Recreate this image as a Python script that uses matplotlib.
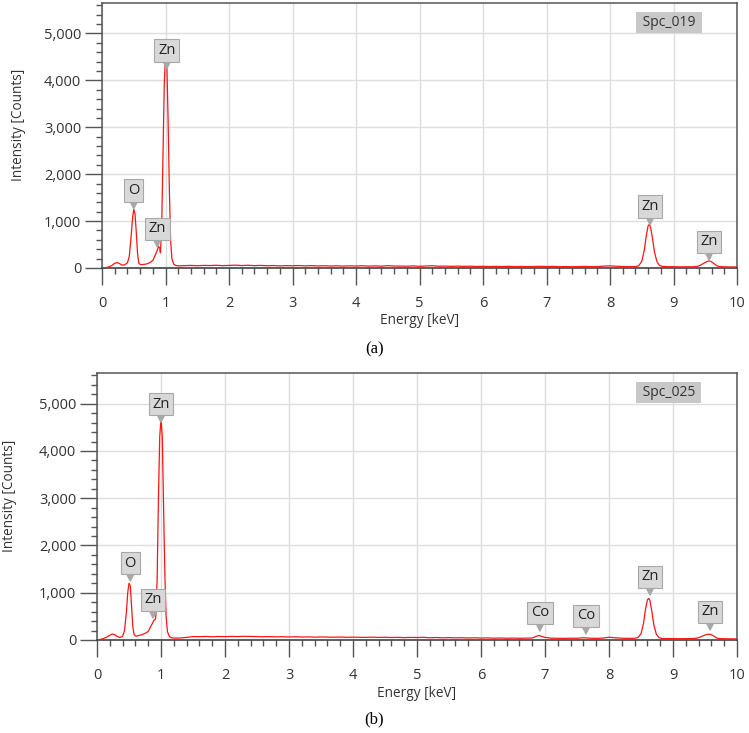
import numpy as np
import matplotlib.pyplot as plt
from matplotlib.ticker import MultipleLocator, FuncFormatter

plt.rcParams['font.family'] = ['Open Sans', 'DejaVu Sans']

# ---- spectrum (a) : Spc_019 ----
low_e_a = [0.00, 0.05, 0.10, 0.15, 0.20, 0.24, 0.28, 0.32, 0.36, 0.40, 0.43, 0.46, 0.48,
           0.50, 0.52, 0.54, 0.56, 0.58, 0.61, 0.65, 0.70, 0.75, 0.80, 0.84, 0.87, 0.89,
           0.91, 0.92, 0.94, 0.96, 0.98, 1.00, 1.02, 1.04, 1.06, 1.08, 1.10, 1.13, 1.16]
low_c_a = [0, 5, 20, 50, 100, 115, 90, 60, 70, 110, 250, 700, 1050,
           1250, 1150, 750, 300, 100, 70, 75, 85, 110, 160, 280, 380, 460,
           420, 320, 900, 2400, 3900, 4550, 4400, 3200, 1700, 600, 200, 80, 55]
# background 1.2 - 8.4 keV, 0.1 keV steps
mid_c_a = [45, 50, 55, 48, 55, 52, 58, 50, 55, 60,
           52, 58, 50, 55, 48, 52, 45, 50, 48, 52,
           45, 50, 44, 48, 42, 47, 40, 46, 42, 48,
           40, 45, 38, 50, 42, 40, 38, 44, 36, 42,
           48, 38, 40, 35, 40, 34, 38, 32, 36, 30,
           34, 30, 35, 30, 33, 28, 32, 36, 30, 34,
           28, 30, 26, 30, 34, 28, 30, 40, 45, 38,
           30, 28, 30]
high_e_a = [8.45, 8.50, 8.54, 8.57, 8.60, 8.62, 8.64, 8.67, 8.70, 8.74, 8.78, 8.82, 8.86,
            8.90, 9.00, 9.10, 9.20, 9.30, 9.38, 9.44, 9.50, 9.54, 9.57, 9.60, 9.64, 9.68,
            9.72, 9.80, 9.90, 10.00]
high_c_a = [45, 140, 380, 680, 900, 930, 860, 620, 340, 130, 55, 35, 30,
            26, 28, 24, 26, 25, 35, 70, 120, 145, 150, 130, 90, 50,
            30, 25, 22, 22]

# ---- spectrum (b) : Spc_025 ----
low_e_b = [0.00, 0.05, 0.10, 0.15, 0.20, 0.24, 0.28, 0.32, 0.36, 0.40, 0.43, 0.46, 0.48,
           0.50, 0.52, 0.54, 0.56, 0.58, 0.61, 0.65, 0.70, 0.75, 0.80, 0.84, 0.87, 0.89,
           0.91, 0.92, 0.94, 0.96, 0.98, 1.00, 1.02, 1.04, 1.06, 1.08, 1.10, 1.13, 1.16]
low_c_b = [0, 10, 30, 60, 100, 125, 110, 70, 55, 75, 200, 600, 1000,
           1200, 1150, 700, 280, 110, 80, 95, 110, 140, 180, 290, 360, 420,
           430, 520, 1300, 3000, 4300, 4680, 4300, 2900, 1400, 500, 180, 75, 50]
mid_c_b = [40, 42, 55, 72, 70, 75, 68, 74, 70, 76,
           72, 78, 74, 70, 68, 72, 66, 70, 64, 68,
           62, 66, 60, 64, 62, 58, 62, 56, 60, 58,
           55, 60, 54, 58, 52, 56, 50, 55, 52, 56,
           48, 52, 46, 50, 45, 48, 42, 46, 40, 44,
           38, 42, 36, 40, 36, 38, 42, 95, 55, 38,
           36, 34, 38, 36, 48, 38, 34, 40, 58, 46,
           38, 34, 36]
high_e_b = high_e_a
high_c_b = [50, 130, 360, 650, 850, 880, 830, 600, 320, 120, 50, 35, 30,
            28, 30, 26, 28, 30, 40, 70, 105, 120, 122, 110, 80, 45,
            30, 26, 24, 22]

mid_e = np.round(np.arange(1.2, 8.45, 0.1), 2)

# ---- peak labels ----
lab_text_a = ['O', 'Zn', 'Zn', 'Zn', 'Zn']
lab_e_a = [0.50, 0.87, 1.02, 8.63, 9.56]
lab_c_a = [1266, 450, 4250, 923, 172]

lab_text_b = ['Zn', 'O', 'Zn', 'Co', 'Co', 'Zn', 'Zn']
lab_e_b = [1.00, 0.52, 0.875, 6.92, 7.64, 8.64, 9.58]
lab_c_b = [4609, 1247, 465, 190, 127, 951, 211]


def draw_panel(ax, energy, counts, lab_text, lab_e, lab_c, spc):
    ax.plot(energy, counts, color='#ff1414', lw=0.9, zorder=3)
    ax.set_xlim(0, 10)
    ax.set_ylim(0, 5650)
    ax.xaxis.set_major_locator(MultipleLocator(1))
    ax.xaxis.set_minor_locator(MultipleLocator(0.2))
    ax.yaxis.set_major_locator(MultipleLocator(1000))
    ax.yaxis.set_minor_locator(MultipleLocator(200))
    ax.yaxis.set_major_formatter(FuncFormatter(lambda v, p: f'{int(v):,}'))
    ax.grid(True, which='major', color='#dedede', lw=1)
    ax.set_axisbelow(True)
    for s in ax.spines.values():
        s.set_color('#555555')
        s.set_linewidth(1.1)
    ax.spines['bottom'].set_color('#333333')
    ax.tick_params(which='major', length=12, width=1, color='#555555',
                   labelsize=10.5, labelcolor='#333333')
    ax.tick_params(which='minor', length=4.5, width=1, color='#555555')
    ax.tick_params(axis='x', which='major', pad=8)
    ax.tick_params(axis='y', which='major', pad=3)
    ax.set_xlabel('Energy [keV]', fontsize=9.8, color='#333333')
    ax.set_ylabel('Intensity [Counts]', fontsize=9.8, color='#333333')

    for t, e, c in zip(lab_text, lab_e, lab_c):
        ax.annotate(t, xy=(e, c), xytext=(0, 13), textcoords='offset points',
                    ha='center', va='center', fontsize=10.5, color='#222222', zorder=5,
                    bbox=dict(boxstyle='square,pad=0.25', fc='#d8d8d8', ec='#a8a8a8', lw=0.8),
                    arrowprops=dict(arrowstyle='wedge,tail_width=0.45', fc='#a8a8a8',
                                    ec='#a8a8a8', shrinkA=0, shrinkB=0))

    ax.text(0.893, 0.927, ' ' + spc + ' ', transform=ax.transAxes, ha='center', va='center',
            fontsize=10, color='#333333',
            bbox=dict(boxstyle='square,pad=0.2', fc='#c8c8c8', ec='none'))


fig = plt.figure(figsize=(7.49, 7.33), dpi=100)
ax1 = fig.add_axes([0.1362, 0.6344, 0.8478, 0.3615])
ax2 = fig.add_axes([0.1295, 0.1269, 0.8545, 0.3642])

energy_a = np.concatenate([low_e_a, mid_e, high_e_a])
counts_a = np.concatenate([low_c_a, mid_c_a, high_c_a])
energy_b = np.concatenate([low_e_b, mid_e, high_e_b])
counts_b = np.concatenate([low_c_b, mid_c_b, high_c_b])

draw_panel(ax1, energy_a, counts_a, lab_text_a, lab_e_a, lab_c_a, 'Spc_019')
draw_panel(ax2, energy_b, counts_b, lab_text_b, lab_e_b, lab_c_b, 'Spc_025')

ax1.xaxis.set_label_coords(0.5, -0.2)
ax2.xaxis.set_label_coords(0.5, -0.199)
ax1.yaxis.set_label_coords(-0.131, 0.54)
ax2.yaxis.set_label_coords(-0.136, 0.54)
for ax in (ax1, ax2):
    ax.xaxis.label.set_va('center')
    ax.yaxis.label.set_va('center')

fig.text(0.5, 1 - 349 / 733, '(a)', ha='center', va='center', fontsize=12,
         family='Liberation Serif')
fig.text(0.5, 1 - 719 / 733, '(b)', ha='center', va='center', fontsize=12,
         family='Liberation Serif')

fig.savefig('out.png', dpi=100)
